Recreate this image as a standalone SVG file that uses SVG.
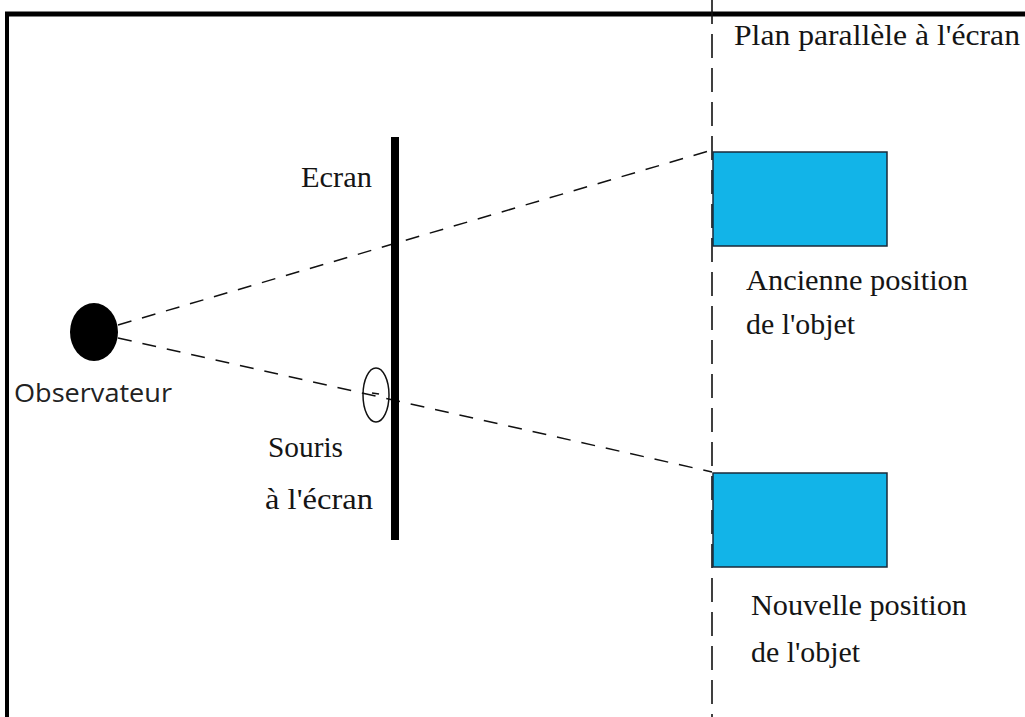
<svg xmlns="http://www.w3.org/2000/svg" width="1025" height="717" viewBox="0 0 1025 717">
  <style>
    .lbl { font-family: "Liberation Serif", "DejaVu Serif", serif; font-size: 30px; fill: #151515; }
    .sans { font-family: "Open Sans", "DejaVu Sans", sans-serif; font-size: 25px; fill: #222; }
    .dash { fill: none; stroke: #111; stroke-width: 1.5; stroke-dasharray: 14 11; }
    .obj { fill: #12b4e8; stroke: #1a2a3a; stroke-width: 1.5; }
  </style>
  <rect width="1025" height="717" fill="#fff"/>

  <!-- frame -->
  <g id="frame">
    <line x1="5" y1="14" x2="1025" y2="14" stroke="#000" stroke-width="5"/>
    <line x1="7" y1="12" x2="7" y2="717" stroke="#000" stroke-width="4"/>
  </g>

  <!-- plane parallel to the screen -->
  <g id="plane">
    <line x1="712" y1="0" x2="712" y2="717" stroke="#111" stroke-width="1.6" stroke-dasharray="24 10"/>
    <text class="lbl" x="734" y="45" textLength="286" lengthAdjust="spacingAndGlyphs">Plan parallèle à l'écran</text>
  </g>

  <!-- sight lines -->
  <g id="connectors">
    <line class="dash" x1="118" y1="325" x2="712" y2="150"/>
    <line class="dash" x1="118" y1="338" x2="712" y2="472"/>
  </g>

  <g id="observer">
    <ellipse cx="94" cy="332" rx="24" ry="29" fill="#000"/>
    <text class="sans" x="14" y="402" textLength="158" lengthAdjust="spacingAndGlyphs">Observateur</text>
  </g>

  <g id="screen">
    <line x1="395" y1="137" x2="395" y2="540" stroke="#000" stroke-width="8"/>
    <text class="lbl" x="301" y="187" textLength="71" lengthAdjust="spacingAndGlyphs">Ecran</text>
  </g>

  <g id="mouse">
    <ellipse cx="376" cy="395" rx="13" ry="27" fill="none" stroke="#111" stroke-width="1.5"/>
    <line x1="372" y1="393" x2="379" y2="394" stroke="#111" stroke-width="1.5"/>
    <text class="lbl" x="268" y="457" textLength="75" lengthAdjust="spacingAndGlyphs">Souris</text>
    <text class="lbl" x="265" y="509" textLength="108" lengthAdjust="spacingAndGlyphs">à l'écran</text>
  </g>

  <g id="old-position">
    <rect class="obj" x="713" y="152" width="174" height="94"/>
    <text class="lbl" x="746" y="290" textLength="222" lengthAdjust="spacingAndGlyphs">Ancienne position</text>
    <text class="lbl" x="746" y="334" textLength="109" lengthAdjust="spacingAndGlyphs">de l'objet</text>
  </g>

  <g id="new-position">
    <rect class="obj" x="713" y="473" width="174" height="94"/>
    <text class="lbl" x="751" y="615" textLength="216" lengthAdjust="spacingAndGlyphs">Nouvelle position</text>
    <text class="lbl" x="751" y="662" textLength="109" lengthAdjust="spacingAndGlyphs">de l'objet</text>
  </g>
</svg>
